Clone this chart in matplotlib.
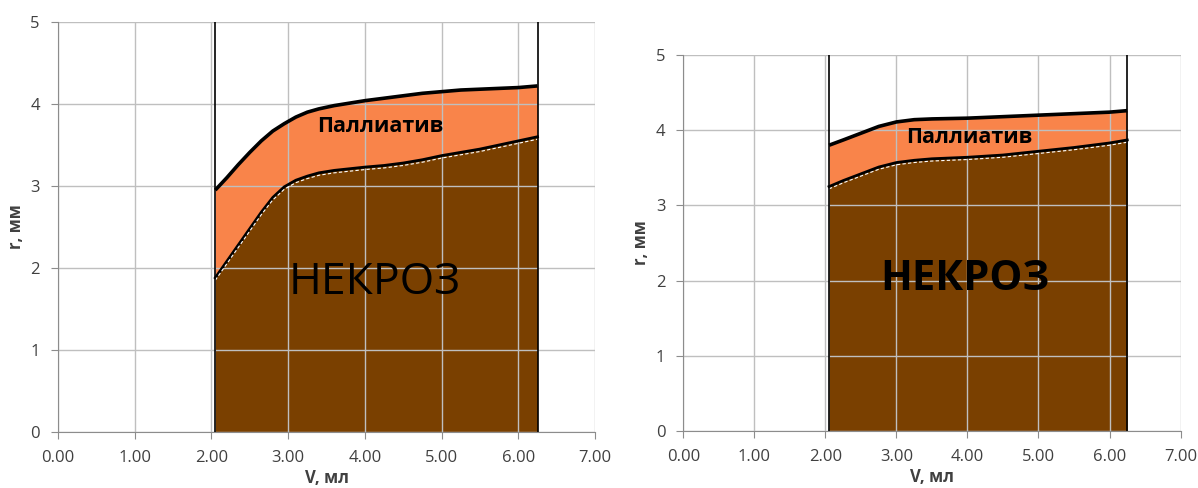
import matplotlib
matplotlib.use("Agg")
import matplotlib.pyplot as plt
import numpy as np

# ---- data ----
x_left = [2.05, 2.2, 2.35, 2.5, 2.65, 2.8, 2.95, 3.1, 3.25, 3.4, 3.6, 3.8, 4.0,
          4.25, 4.5, 4.75, 5.0, 5.25, 5.5, 5.75, 6.0, 6.25]
pall_left = [2.95, 3.1, 3.26, 3.41, 3.55, 3.67, 3.76, 3.84, 3.9, 3.94, 3.98, 4.01, 4.04,
             4.07, 4.1, 4.13, 4.15, 4.17, 4.18, 4.19, 4.2, 4.22]
necr_left = [1.88, 2.08, 2.28, 2.48, 2.68, 2.86, 2.99, 3.07, 3.12, 3.16, 3.19, 3.21, 3.23,
             3.25, 3.28, 3.32, 3.37, 3.41, 3.45, 3.5, 3.55, 3.60]

x_right = [2.05, 2.25, 2.5, 2.75, 3.0, 3.25, 3.5, 3.75, 4.0, 4.5, 5.0, 5.5, 6.0, 6.25]
pall_right = [3.8, 3.87, 3.96, 4.05, 4.11, 4.14, 4.15, 4.155, 4.16, 4.18, 4.2, 4.22, 4.24, 4.26]
necr_right = [3.25, 3.33, 3.42, 3.51, 3.57, 3.6, 3.62, 3.63, 3.64, 3.67, 3.72, 3.77, 3.83, 3.87]

x_ticks = [0, 1, 2, 3, 4, 5, 6, 7]
x_ticklabels = ["0.00", "1.00", "2.00", "3.00", "4.00", "5.00", "6.00", "7.00"]
y_ticks = [0, 1, 2, 3, 4, 5]
x_label = "V, мл"
y_label = "r, мм"
label_pall = "Паллиатив"
label_necr = "НЕКРОЗ"

ORANGE = "#F9844A"
BROWN = "#7A4000"
GRID = "#BFBFBF"
FONT = ["Open Sans", "DejaVu Sans"]
plt.rcParams["font.family"] = FONT

fig = plt.figure(figsize=(11.98, 4.88), dpi=100)
axL = fig.add_axes([0.0484, 0.1148, 0.4483, 0.8402])
axR = fig.add_axes([0.5705, 0.1168, 0.4149, 0.7705])

def draw(ax, xs, up, lo, pall_pos, necr_pos, necr_weight, necr_size):
    xs = np.asarray(xs); up = np.asarray(up); lo = np.asarray(lo)
    ax.fill_between(xs, lo, up, color=ORANGE, lw=0, zorder=1)
    ax.fill_between(xs, 0, lo, color=BROWN, lw=0, zorder=1)
    ax.plot(xs, up, color="black", lw=2.6, zorder=3, solid_capstyle="butt",
            solid_joinstyle="round")
    ax.plot(xs, lo, color="black", lw=2.0, zorder=3, solid_joinstyle="round")
    ax.plot(xs, lo - 0.03, color="white", lw=0.8, ls=(0, (3, 2)), zorder=3)
    for xv in (xs[0], xs[-1]):
        ax.axvline(xv, color="black", lw=1.2, zorder=3)
    ax.set_xlim(0, 7)
    ax.set_ylim(0, 5)
    ax.set_xticks(x_ticks)
    ax.set_xticklabels(x_ticklabels)
    ax.set_yticks(y_ticks)
    ax.grid(True, color=GRID, lw=1.0)
    ax.set_axisbelow("line")
    for s in ("top", "right"):
        ax.spines[s].set_visible(False)
    for s in ("left", "bottom"):
        ax.spines[s].set_color("#8C8C8C")
    ax.tick_params(axis="both", colors="#8C8C8C", labelcolor="#404040",
                   labelsize=12, length=5, direction="out")
    ax.tick_params(axis="x", pad=8)
    ax.tick_params(axis="y", pad=8)
    ax.set_xlabel(x_label, fontsize=12, fontweight="bold", color="#404040", labelpad=2)
    ax.set_ylabel(y_label, fontsize=12, fontweight="bold", color="#404040", labelpad=4)
    ax.text(pall_pos[0], pall_pos[1], label_pall, fontsize=15.5, fontweight="bold",
            ha="center", va="center", color="black", zorder=4)
    ax.text(necr_pos[0], necr_pos[1], label_necr, fontsize=necr_size, fontweight=necr_weight,
            ha="center", va="center", color="black", zorder=4)

draw(axL, x_left, pall_left, necr_left, (4.2, 3.72), (4.13, 1.82), "normal", 32)
draw(axR, x_right, pall_right, necr_right, (4.03, 3.9), (3.96, 2.02), "bold", 30)

fig.savefig("out.png", dpi=100)
